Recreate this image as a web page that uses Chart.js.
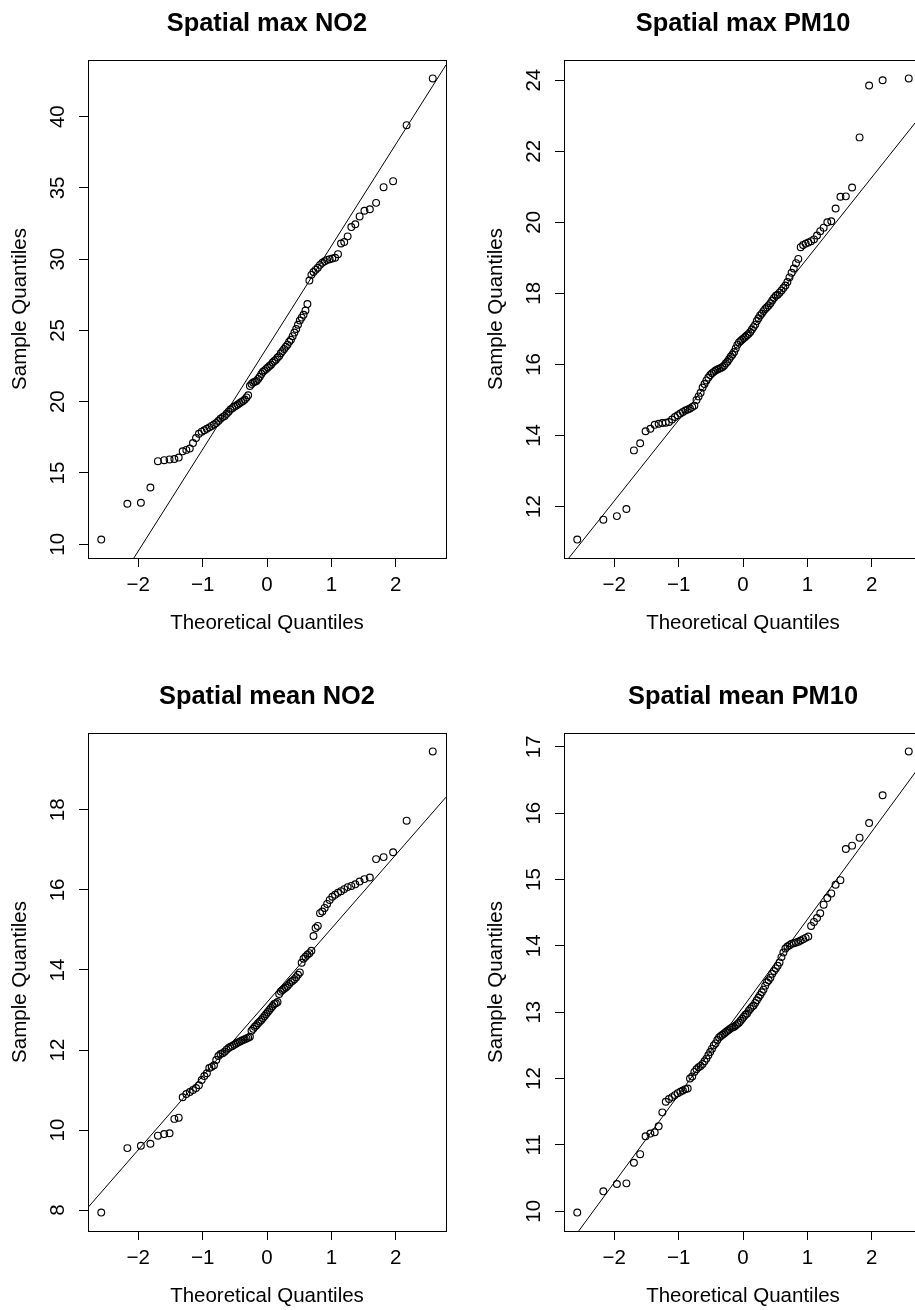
<!DOCTYPE html>
<html>
<head>
<meta charset="utf-8">
<script src="https://cdn.jsdelivr.net/npm/chart.js@4.4.1/dist/chart.umd.min.js"></script>
<style>
html, body { margin: 0; padding: 0; background: #fff; overflow: hidden; width: 915px; height: 1310px; }
canvas { position: absolute; }
</style>
</head>
<body>
<canvas id="p1" width="476" height="673" style="left:0px;top:0px"></canvas>
<canvas id="p2" width="476" height="673" style="left:476px;top:0px"></canvas>
<canvas id="p3" width="476" height="673" style="left:0px;top:673px"></canvas>
<canvas id="p4" width="476" height="673" style="left:476px;top:673px"></canvas>
<script>
// Theoretical normal quantiles for n = 100 (as printed on the x axis)
const theoreticalQuantiles = [
  -2.5758,-2.1701,-1.9600,-1.8119,-1.6954,-1.5982,-1.5141,-1.4395,-1.3722,-1.3106,
  -1.2536,-1.2004,-1.1503,-1.1031,-1.0581,-1.0152,-0.9741,-0.9346,-0.8965,-0.8596,
  -0.8239,-0.7892,-0.7554,-0.7225,-0.6903,-0.6588,-0.6280,-0.5978,-0.5681,-0.5388,
  -0.5101,-0.4817,-0.4538,-0.4261,-0.3989,-0.3719,-0.3451,-0.3186,-0.2924,-0.2663,
  -0.2404,-0.2147,-0.1891,-0.1637,-0.1383,-0.1130,-0.0878,-0.0627,-0.0376,-0.0125,
  0.0125,0.0376,0.0627,0.0878,0.1130,0.1383,0.1637,0.1891,0.2147,0.2404,
  0.2663,0.2924,0.3186,0.3451,0.3719,0.3989,0.4261,0.4538,0.4817,0.5101,
  0.5388,0.5681,0.5978,0.6280,0.6588,0.6903,0.7225,0.7554,0.7892,0.8239,
  0.8596,0.8965,0.9346,0.9741,1.0152,1.0581,1.1031,1.1503,1.2004,1.2536,
  1.3106,1.3722,1.4395,1.5141,1.5982,1.6954,1.8119,1.9600,2.1701,2.5758
];

// Sample values (sorted)
const spatialMaxNO2 = [
  10.33,12.84,12.91,13.98,15.83,15.90,15.95,15.98,16.08,16.52,
  16.62,16.72,17.10,17.45,17.75,17.90,18.00,18.10,18.20,18.30,
  18.40,18.50,18.65,18.80,18.92,19.00,19.15,19.30,19.45,19.55,
  19.65,19.72,19.80,19.90,19.98,20.05,20.15,20.30,20.45,21.10,
  21.25,21.35,21.40,21.45,21.60,21.75,21.95,22.10,22.20,22.30,
  22.40,22.50,22.60,22.75,22.85,22.95,23.10,23.20,23.40,23.55,
  23.70,23.85,24.00,24.20,24.35,24.60,24.85,25.10,25.40,25.70,
  25.90,26.10,26.40,26.85,28.50,28.90,29.10,29.25,29.40,29.60,
  29.75,29.85,29.95,30.00,30.05,30.10,30.35,31.10,31.20,31.60,
  32.25,32.45,33.00,33.40,33.50,33.95,35.05,35.47,39.40,42.68
];
const spatialMaxPM10 = [
  11.07,11.63,11.73,11.93,13.58,13.78,14.12,14.19,14.30,14.33,
  14.35,14.36,14.38,14.45,14.52,14.57,14.62,14.66,14.70,14.73,
  14.76,14.80,14.84,15.00,15.10,15.20,15.35,15.45,15.55,15.63,
  15.70,15.75,15.79,15.83,15.86,15.88,15.90,15.93,15.97,16.03,
  16.08,16.15,16.22,16.28,16.35,16.45,16.55,16.62,16.66,16.70,
  16.74,16.78,16.82,16.86,16.91,16.98,17.05,17.12,17.22,17.30,
  17.38,17.43,17.50,17.56,17.61,17.66,17.72,17.80,17.87,17.93,
  17.96,18.02,18.08,18.15,18.22,18.32,18.45,18.58,18.70,18.85,
  18.97,19.30,19.36,19.40,19.43,19.47,19.52,19.63,19.75,19.85,
  20.00,20.03,20.39,20.72,20.73,20.98,22.39,23.85,24.00,24.05
];
const spatialMeanNO2 = [
  7.94,9.55,9.61,9.66,9.86,9.90,9.92,10.28,10.31,10.82,
  10.90,10.95,11.00,11.05,11.12,11.25,11.35,11.42,11.55,11.58,
  11.62,11.75,11.85,11.90,11.92,11.96,12.01,12.05,12.08,12.10,
  12.13,12.16,12.19,12.21,12.23,12.25,12.27,12.29,12.31,12.33,
  12.48,12.53,12.58,12.62,12.67,12.71,12.75,12.80,12.85,12.90,
  12.95,13.00,13.05,13.10,13.15,13.17,13.20,13.40,13.46,13.50,
  13.53,13.56,13.60,13.65,13.70,13.73,13.77,13.82,13.88,13.94,
  14.18,14.28,14.33,14.38,14.42,14.48,14.85,15.05,15.10,15.42,
  15.46,15.55,15.65,15.75,15.83,15.88,15.93,15.97,16.02,16.07,
  16.10,16.14,16.21,16.27,16.31,16.77,16.82,16.94,17.73,19.46
];
const spatialMeanPM10 = [
  9.98,10.30,10.41,10.42,10.73,10.86,11.13,11.17,11.19,11.28,
  11.49,11.65,11.69,11.72,11.75,11.78,11.80,11.82,11.84,11.85,
  12.00,12.03,12.10,12.14,12.17,12.19,12.22,12.26,12.30,12.35,
  12.40,12.45,12.50,12.53,12.58,12.62,12.64,12.66,12.68,12.70,
  12.72,12.74,12.76,12.77,12.78,12.80,12.82,12.84,12.87,12.90,
  12.93,12.96,12.98,13.02,13.05,13.08,13.10,13.14,13.18,13.22,
  13.26,13.30,13.34,13.40,13.45,13.48,13.52,13.58,13.62,13.66,
  13.70,13.75,13.83,13.90,13.96,13.99,14.01,14.03,14.04,14.05,
  14.06,14.08,14.10,14.12,14.14,14.30,14.36,14.42,14.49,14.62,
  14.72,14.79,14.92,14.99,15.46,15.51,15.63,15.85,16.27,16.93
];

const panelTitles = ['Spatial max NO2', 'Spatial max PM10', 'Spatial mean NO2', 'Spatial mean PM10'];
const xAxisTitle = 'Theoretical Quantiles';
const yAxisTitle = 'Sample Quantiles';
const xTickValues = [-2, -1, 0, 1, 2];
const xTickLabels = ['\u22122', '\u22121', '0', '1', '2'];
const yTicksMaxNO2 = [10, 15, 20, 25, 30, 35, 40];
const yTicksMaxPM10 = [12, 14, 16, 18, 20, 22, 24];
const yTicksMeanNO2 = [8, 10, 12, 14, 16, 18];
const yTicksMeanPM10 = [10, 11, 12, 13, 14, 15, 16, 17];

Chart.defaults.color = '#000';
const FAMILY = '"Liberation Sans", Arial, Helvetica, sans-serif';
const baseFont = { family: FAMILY, size: 20.5, weight: 'normal' };

const boxPlugin = {
  id: 'plotBox',
  afterDraw(chart) {
    const { ctx, chartArea: a } = chart;
    ctx.save();
    ctx.strokeStyle = '#000';
    ctx.lineWidth = 1;
    const l = Math.round(a.left) + 0.5, t = Math.round(a.top) + 0.5;
    const r = Math.round(a.right) + 0.5, b = Math.round(a.bottom) + 0.5;
    ctx.strokeRect(l, t, r - l, b - t);
    ctx.restore();
  }
};

function quantile7(sorted, p) {
  const h = (sorted.length - 1) * p;
  const lo = Math.floor(h);
  const hi = Math.min(lo + 1, sorted.length - 1);
  return sorted[lo] + (h - lo) * (sorted[hi] - sorted[lo]);
}

function makePanel(id, title, values, yTicks) {
  const xs = theoreticalQuantiles;
  const sorted = values.slice().sort((a, b) => a - b);
  const xLo = Math.min(...xs), xHi = Math.max(...xs);
  const yLo = sorted[0], yHi = sorted[sorted.length - 1];
  const xmin = xLo - (xHi - xLo) * 0.04, xmax = xHi + (xHi - xLo) * 0.04;
  const ymin = yLo - (yHi - yLo) * 0.04, ymax = yHi + (yHi - yLo) * 0.04;
  // qqline: through the first and third quartiles
  const z = 0.6744897501960817;
  const q1 = quantile7(sorted, 0.25), q3 = quantile7(sorted, 0.75);
  const slope = (q3 - q1) / (2 * z);
  const intercept = q1 + slope * z;

  new Chart(document.getElementById(id), {
    type: 'scatter',
    data: {
      datasets: [
        {
          type: 'line',
          data: [{ x: xmin, y: intercept + slope * xmin }, { x: xmax, y: intercept + slope * xmax }],
          borderColor: '#000', borderWidth: 1, pointRadius: 0, fill: false, tension: 0
        },
        {
          data: xs.map((x, i) => ({ x: x, y: sorted[i] })),
          pointStyle: 'circle', pointRadius: 3.4, borderWidth: 1.15,
          borderColor: '#000', backgroundColor: 'rgba(0,0,0,0)', showLine: false
        }
      ]
    },
    options: {
      responsive: false, animation: false, events: [],
      layout: { padding: { left: 0, right: 30, top: 0, bottom: 0 } },
      plugins: {
        legend: { display: false },
        tooltip: { enabled: false },
        title: {
          display: true, text: title, fullSize: false, color: '#000',
          font: { family: FAMILY, size: 25.4, weight: 'bold' },
          padding: { top: 8.5, bottom: 21 }
        }
      },
      scales: {
        x: {
          type: 'linear', min: xmin, max: xmax,
          afterBuildTicks: s => { s.ticks = xTickValues.map(v => ({ value: v })); },
          afterFit: s => { s.height = 115; },
          ticks: {
            callback: v => xTickLabels[xTickValues.indexOf(v)],
            font: baseFont, color: '#000', padding: 6, maxRotation: 0, minRotation: 0, autoSkip: false
          },
          grid: { display: true, drawOnChartArea: false, drawTicks: true, tickLength: 9, color: '#000', tickColor: '#000', lineWidth: 1 },
          border: { display: false },
          title: { display: true, text: xAxisTitle, font: baseFont, color: '#000', padding: { top: 0, bottom: 37 } }
        },
        y: {
          type: 'linear', min: ymin, max: ymax,
          afterBuildTicks: s => { s.ticks = yTicks.map(v => ({ value: v })); },
          afterFit: s => { s.width = 88; },
          ticks: {
            callback: v => String(v),
            font: baseFont, color: '#000', padding: 9.5, minRotation: 90, maxRotation: 90,
            crossAlign: 'center', autoSkip: false
          },
          grid: { display: true, drawOnChartArea: false, drawTicks: true, tickLength: 9, color: '#000', tickColor: '#000', lineWidth: 1 },
          border: { display: false },
          title: { display: true, text: yAxisTitle, font: baseFont, color: '#000', padding: { top: 8, bottom: 0 } }
        }
      }
    },
    plugins: [boxPlugin]
  });
}

makePanel('p1', panelTitles[0], spatialMaxNO2, yTicksMaxNO2);
makePanel('p2', panelTitles[1], spatialMaxPM10, yTicksMaxPM10);
makePanel('p3', panelTitles[2], spatialMeanNO2, yTicksMeanNO2);
makePanel('p4', panelTitles[3], spatialMeanPM10, yTicksMeanPM10);
</script>
</body>
</html>
